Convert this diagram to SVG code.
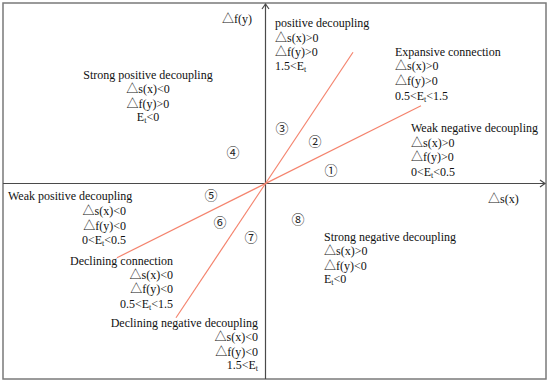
<svg xmlns="http://www.w3.org/2000/svg" width="550" height="384" viewBox="0 0 550 384">
<style>
text{font-family:"Liberation Serif","Noto Sans CJK SC",serif;font-size:12px;fill:#111}
.n{font-family:"Noto Sans CJK SC","Liberation Serif",sans-serif;font-size:13px;fill:#222}
.sub{font-size:8px}
.border{fill:none;stroke:#7a7a7a;stroke-width:1.5}
.axis{fill:none;stroke:#4a4a4a;stroke-width:1.2}
.red{stroke:#f4846e;stroke-width:1.2;fill:none}
.c{text-anchor:middle}
.e{text-anchor:end}
</style>
<rect class="border" x="3" y="3" width="543" height="376"/>
<g id="connectors">
<line class="axis" x1="3" y1="183.5" x2="545" y2="183.5"/>
<polyline class="axis" points="540,180 545,183.5 540,187"/>
<line class="axis" x1="265.5" y1="379" x2="265.5" y2="4"/>
<polyline class="axis" points="262,9 265.5,4 269,9"/>
<line class="red" x1="117" y1="257.75" x2="421" y2="105.75"/>
<line class="red" x1="176" y1="317.75" x2="353" y2="52.25"/>
</g>
<g id="axis-y-label"><text x="222" y="23">△f(y)</text></g>
<g id="axis-x-label"><text x="488" y="203">△s(x)</text></g>
<g id="strong-positive-decoupling">
<text class="c" x="148" y="79">Strong positive decoupling</text>
<text class="c" x="148" y="93">△s(x)&lt;0</text>
<text class="c" x="148" y="108">△f(y)&gt;0</text>
<text class="c" x="148" y="121">E<tspan class="sub" dy="2">t</tspan><tspan dy="-2">&lt;0</tspan></text>
</g>
<g id="positive-decoupling">
<text x="275" y="27">positive decoupling</text>
<text x="275" y="42">△s(x)&gt;0</text>
<text x="275" y="56">△f(y)&gt;0</text>
<text x="275" y="70">1.5&lt;E<tspan class="sub" dy="2">t</tspan></text>
</g>
<g id="expansive-connection">
<text x="395" y="56">Expansive connection</text>
<text x="395" y="70">△s(x)&gt;0</text>
<text x="395" y="85">△f(y)&gt;0</text>
<text x="395" y="100">0.5&lt;E<tspan class="sub" dy="2">t</tspan><tspan dy="-2">&lt;1.5</tspan></text>
</g>
<g id="weak-negative-decoupling">
<text x="411" y="132">Weak negative decoupling</text>
<text x="411" y="147">△s(x)&gt;0</text>
<text x="411" y="161">△f(y)&gt;0</text>
<text x="411" y="176">0&lt;E<tspan class="sub" dy="2">t</tspan><tspan dy="-2">&lt;0.5</tspan></text>
</g>
<g id="weak-positive-decoupling">
<text x="8" y="200">Weak positive decoupling</text>
<text class="e" x="126" y="215">△s(x)&lt;0</text>
<text class="e" x="126" y="230">△f(y)&lt;0</text>
<text class="e" x="126" y="244">0&lt;E<tspan class="sub" dy="2">t</tspan><tspan dy="-2">&lt;0.5</tspan></text>
</g>
<g id="declining-connection">
<text class="e" x="173" y="265">Declining connection</text>
<text class="e" x="173" y="279">△s(x)&lt;0</text>
<text class="e" x="173" y="293">△f(y)&lt;0</text>
<text class="e" x="173" y="308">0.5&lt;E<tspan class="sub" dy="2">t</tspan><tspan dy="-2">&lt;1.5</tspan></text>
</g>
<g id="declining-negative-decoupling">
<text class="e" x="258" y="327">Declining negative decoupling</text>
<text class="e" x="258" y="341">△s(x)&lt;0</text>
<text class="e" x="258" y="356">△f(y)&lt;0</text>
<text class="e" x="258" y="369">1.5&lt;E<tspan class="sub" dy="2">t</tspan></text>
</g>
<g id="strong-negative-decoupling">
<text x="324" y="241">Strong negative decoupling</text>
<text x="324" y="255">△s(x)&gt;0</text>
<text x="324" y="270">△f(y)&lt;0</text>
<text x="324" y="283">E<tspan class="sub" dy="2">t</tspan><tspan dy="-2">&lt;0</tspan></text>
</g>
<g id="region-numbers">
<text class="n c" x="331" y="175">①</text>
<text class="n c" x="315" y="146">②</text>
<text class="n c" x="282" y="133">③</text>
<text class="n c" x="233" y="157">④</text>
<text class="n c" x="211" y="200">⑤</text>
<text class="n c" x="220" y="227">⑥</text>
<text class="n c" x="251" y="242">⑦</text>
<text class="n c" x="298" y="224">⑧</text>
</g>
</svg>
